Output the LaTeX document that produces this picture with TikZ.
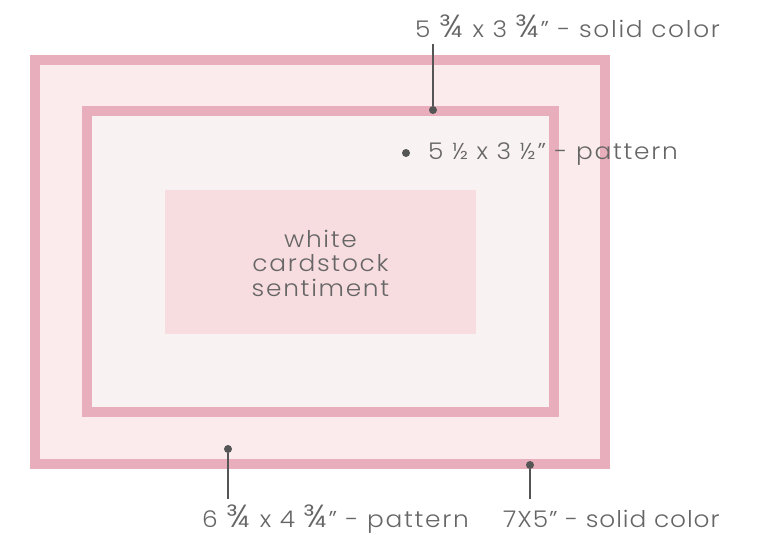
\documentclass[tikz,border=0pt]{standalone}
\usepackage{fontspec}
\setmainfont{Poppins Light}[FakeStretch=1.08,LetterSpace=7.5]
\newcommand\tq{{\fontsize{32}{32}\selectfont ¾}\kern1.5pt}
\begin{document}
\begin{tikzpicture}[x=1pt,y=-1pt,
  frame/.style={draw=framepink,line width=10pt,inner sep=0pt,outer sep=0pt},
  lbl/.style={text=txtgray,font=\fontsize{23}{26}\selectfont,inner sep=0pt},
  pin/.style={circle,fill=dotgray,inner sep=0pt,minimum size=8pt},
  leader/.style={draw=dotgray,line width=1.3pt}]
\definecolor{framepink}{HTML}{E8AEBB}
\definecolor{outerfill}{HTML}{FBEBEC}
\definecolor{innerfill}{HTML}{F8F2F2}
\definecolor{centerfill}{HTML}{F7DCE0}
\definecolor{txtgray}{HTML}{666666}
\definecolor{dotgray}{HTML}{555555}
\useasboundingbox (0,0) rectangle (768,549);
\node[frame,fill=outerfill,minimum width=570pt,minimum height=404pt] (outer) at (320,262) {};
\node[frame,fill=innerfill,minimum width=467pt,minimum height=301pt] (inner) at (320.5,261.5) {};
\node[fill=centerfill,inner sep=0pt,minimum width=311pt,minimum height=144pt] (center) at (320.5,262) {};
\node[lbl,align=center,font=\fontsize{23}{24.5}\selectfont] (ctext) at (320.5,263) {white\\cardstock\\sentiment};
% top label
\node[lbl,anchor=base west] (t1) at (415,37) {5 \tq\ x 3 \tq" - solid color};
\node[pin] (d1) at (433,110) {};
\coordinate (c1) at (433,44);
\draw[leader] (c1) -- (d1);
% middle label
\node[pin] (d2) at (406,153) {};
\node[lbl,anchor=west] (t2) at (428,154) {5 ½ x 3 ½" - pattern};
% bottom left
\node[pin] (d3) at (228,449) {};
\coordinate (c3) at (228,499);
\draw[leader] (d3) -- (c3);
\node[lbl,anchor=base west] (t3) at (202,527) {6 \tq\ x 4 \tq" - pattern};
% bottom right
\node[pin] (d4) at (530,465) {};
\coordinate (c4) at (530,499);
\draw[leader] (d4) -- (c4);
\node[lbl,anchor=west] (t4) at (503,519) {\addfontfeatures{LetterSpace=4}7X5" - solid color};
\end{tikzpicture}
\end{document}
